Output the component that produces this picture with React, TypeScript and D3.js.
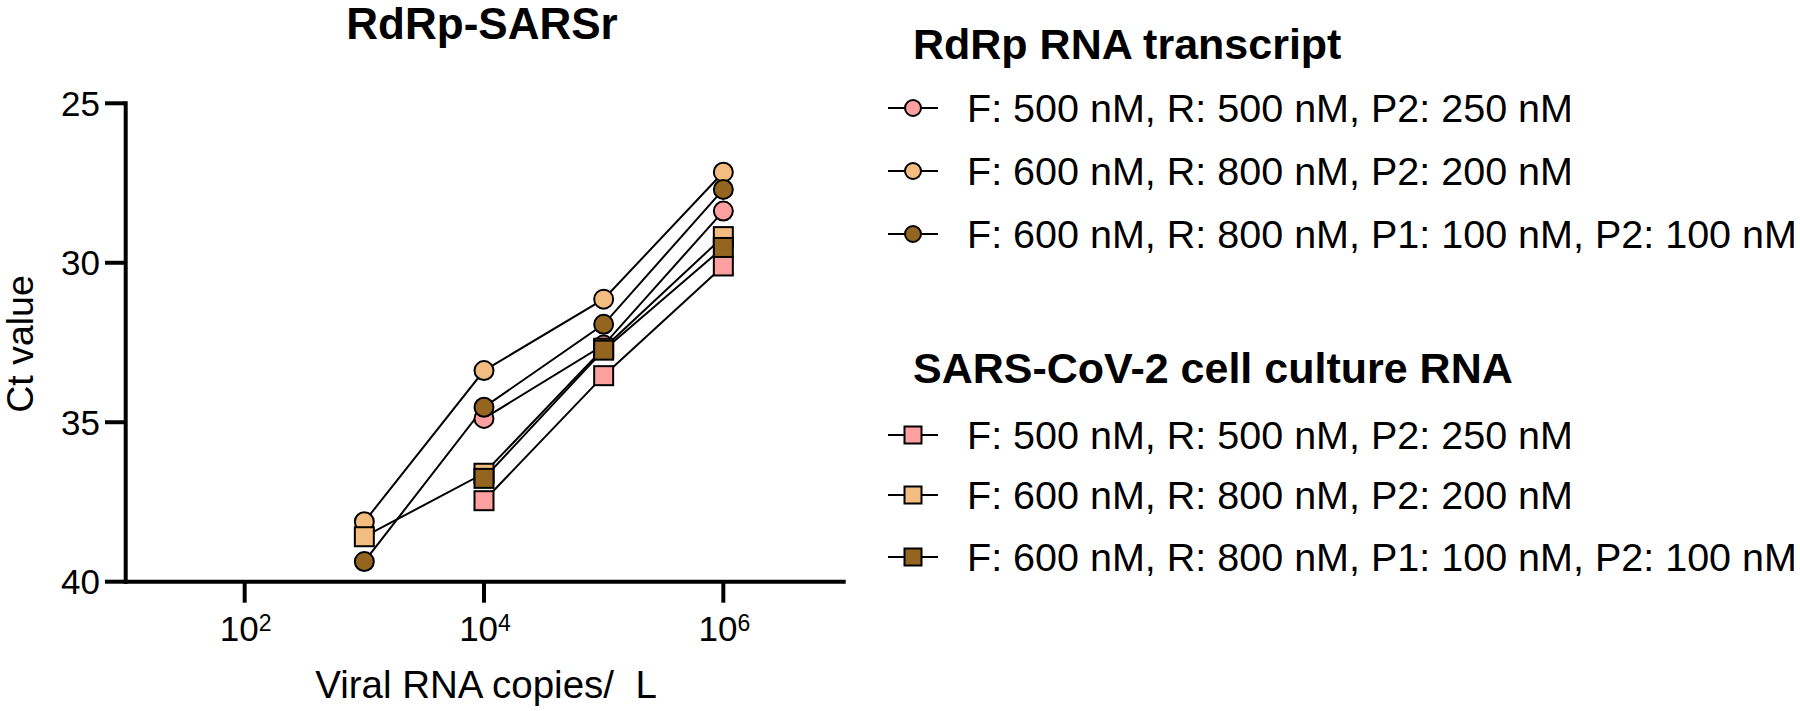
import React from "react";
import * as d3 from "d3";

const xValues = [1e3, 1e4, 1e5, 1e6];
const rdrpPink = [null, 34.88, 32.58, 28.38];
const rdrpOrange = [38.12, 33.38, 31.14, 27.16];
const rdrpBrown = [39.37, 34.53, 31.93, 27.7];
const cellPink = [null, 37.46, 33.54, 30.1];
const cellOrange = [38.59, 36.6, 32.68, 29.18];
const cellBrown = [null, 36.76, 32.74, 29.52];

const yTicks = [25, 30, 35, 40];
const xTicks = [1e2, 1e4, 1e6];
const xTickExp = ["2", "4", "6"];

const labels = [
  "F: 500 nM, R: 500 nM, P2: 250 nM",
  "F: 600 nM, R: 800 nM, P2: 200 nM",
  "F: 600 nM, R: 800 nM, P1: 100 nM, P2: 100 nM",
];
const groupTitles = ["RdRp RNA transcript", "SARS-CoV-2 cell culture RNA"];
const colors = ["#FFA0A0", "#F3BD82", "#93651F"];

const series = [
  { values: rdrpPink, shape: "circle", color: colors[0] },
  { values: rdrpOrange, shape: "circle", color: colors[1] },
  { values: rdrpBrown, shape: "circle", color: colors[2] },
  { values: cellPink, shape: "square", color: colors[0] },
  { values: cellOrange, shape: "square", color: colors[1] },
  { values: cellBrown, shape: "square", color: colors[2] },
];

const FONT = "'Liberation Sans', Arial, sans-serif";

function Marker({ shape, cx, cy, color, size }: any) {
  if (shape === "circle") {
    return <circle cx={cx} cy={cy} r={size / 2} fill={color} stroke="#000" strokeWidth={2} />;
  }
  return (
    <rect x={cx - size / 2} y={cy - size / 2} width={size} height={size} fill={color} stroke="#000" strokeWidth={2} />
  );
}

export default function App() {
  const x = d3.scaleLog().domain([1e1, 1e7]).range([125, 843]);
  const y = d3.scaleLinear().domain([25, 40]).range([103.3, 581.7]);
  const axisX = 125.7;
  const axisY = 581.7;

  const line = d3
    .line<any>()
    .defined((d) => d[1] != null)
    .x((d) => x(d[0]))
    .y((d) => y(d[1]));

  const legendRows = [108, 171, 234, 435, 495, 557];
  const titleBaselines = [59, 383];

  return (
    <svg
      width={1800}
      height={711}
      style={{ position: "absolute", left: 0, top: 0, background: "#fff" }}
      fontFamily={FONT}
    >
      <rect width={1800} height={711} fill="#fff" />
      <text x={482} y={39} textAnchor="middle" fontSize={44} fontWeight="bold">
        RdRp-SARSr
      </text>

      {series.map((s, i) => (
        <path
          key={"l" + i}
          d={line(xValues.map((xv, j) => [xv, s.values[j]])) || ""}
          fill="none"
          stroke="#000"
          strokeWidth={2}
        />
      ))}
      {series.map((s, i) =>
        xValues.map((xv, j) =>
          s.values[j] == null ? null : (
            <Marker key={`m${i}-${j}`} shape={s.shape} cx={x(xv)} cy={y(s.values[j] as number)} color={s.color} size={19} />
          )
        )
      )}

      <line x1={axisX} x2={axisX} y1={y(25) - 2} y2={axisY + 2} stroke="#000" strokeWidth={4} />
      <line x1={axisX - 2} x2={845.7} y1={axisY} y2={axisY} stroke="#000" strokeWidth={4} />
      {yTicks.map((t) => (
        <g key={"yt" + t}>
          <line x1={105} x2={axisX} y1={y(t)} y2={y(t)} stroke="#000" strokeWidth={4} />
          <text x={100} y={y(t)} textAnchor="end" dominantBaseline="central" fontSize={35}>
            {t}
          </text>
        </g>
      ))}
      {xTicks.map((t, i) => (
        <g key={"xt" + t}>
          <line x1={x(t)} x2={x(t)} y1={axisY} y2={axisY + 21} stroke="#000" strokeWidth={4} />
          <text x={x(t) + 1} y={641} textAnchor="middle" fontSize={35}>
            <tspan>10</tspan>
            <tspan fontSize={23} dy={-10}>
              {xTickExp[i]}
            </tspan>
          </text>
        </g>
      ))}
      <text x={486} y={698} textAnchor="middle" fontSize={38.5} style={{ whiteSpace: "pre" }}>
        {"Viral RNA copies/  L"}
      </text>
      <text transform={`translate(33, 344) rotate(-90)`} textAnchor="middle" fontSize={37.5}>
        Ct value
      </text>

      {groupTitles.map((g, i) => (
        <text key={"gt" + i} x={913} y={titleBaselines[i]} fontSize={43} fontWeight="bold">
          {g}
        </text>
      ))}
      {series.map((s, i) => (
        <g key={"lg" + i}>
          <line x1={888} x2={938} y1={legendRows[i]} y2={legendRows[i]} stroke="#000" strokeWidth={2} />
          <Marker shape={s.shape} cx={913} cy={legendRows[i]} color={s.color} size={s.shape === "circle" ? 16 : 17} />
          <text x={967} y={legendRows[i]} dominantBaseline="central" fontSize={39.5}>
            {labels[i % 3]}
          </text>
        </g>
      ))}
    </svg>
  );
}
